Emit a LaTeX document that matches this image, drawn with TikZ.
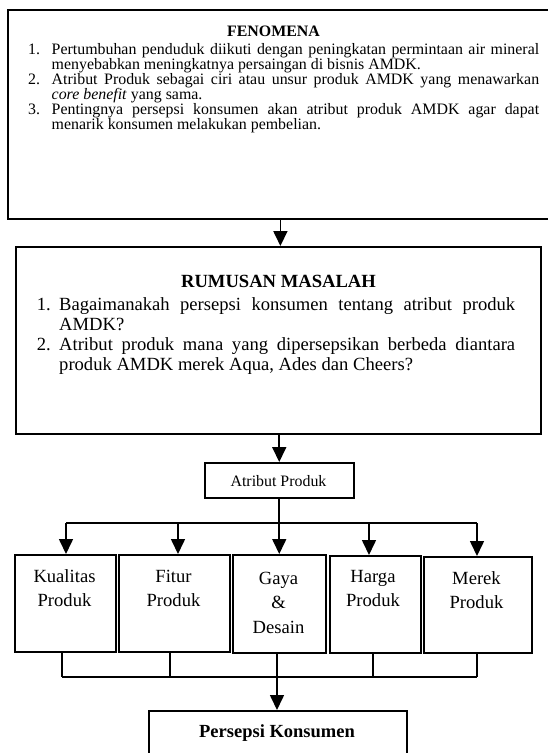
\documentclass[tikz,border=0pt]{standalone}
\usepackage{fontspec}
\setmainfont{Liberation Serif}
\usetikzlibrary{arrows.meta}
\newcommand\fenfont{\fontsize{15.9}{15}\selectfont}
\newcommand\rumfont{\fontsize{18.6}{20}\selectfont}
\newcommand\bxfont{\fontsize{18.6}{24.5}\selectfont}
\newcommand\twoline[2]{\begin{tabular}[t]{@{}c@{}}#1\\#2\end{tabular}}
\newcommand\threeline[3]{\begin{tabular}[t]{@{}c@{}}#1\\#2\\#3\end{tabular}}
\begin{document}
\begin{tikzpicture}[x=1pt,y=-1pt,
  bigbox/.style={draw, line width=1.8pt, inner sep=0pt, anchor=north west},
  smallbox/.style={draw, line width=1.5pt, inner sep=0pt, anchor=north west},
  txt/.style={inner sep=0pt, anchor=base west},
  ctxt/.style={inner sep=0pt, anchor=base},
  conn/.style={line width=1.5pt},
  arr/.style={line width=1.8pt, -{Triangle[width=14pt,length=15pt]}},
  arrb/.style={line width=1.6pt, -{Triangle[width=14pt,length=15pt]}}]
\fill[white] (0,0) rectangle (547,753);
\useasboundingbox (0,0) rectangle (547,753);

% FENOMENA box
\node[bigbox, minimum width=545pt, minimum height=209pt] (fen) at (7,9) {};
\node[ctxt] (fent) at (273.5,36) {\fenfont\bfseries FENOMENA};
\node[txt] (f1n) at (28,54) {\fenfont 1.};
\node[txt] (f1a) at (51.5,54) {\fenfont\makebox[487.5pt][s]{Pertumbuhan penduduk diikuti dengan peningkatan permintaan air mineral}};
\node[txt] (f1b) at (51.5,69) {\fenfont menyebabkan meningkatnya persaingan di bisnis AMDK.};
\node[txt] (f2n) at (28,84) {\fenfont 2.};
\node[txt] (f2a) at (51.5,84) {\fenfont\makebox[487.5pt][s]{Atribut Produk sebagai ciri atau unsur produk AMDK yang menawarkan}};
\node[txt] (f2b) at (51.5,99) {\fenfont\textit{core benefit} yang sama.};
\node[txt] (f3n) at (28,114) {\fenfont 3.};
\node[txt] (f3a) at (51.5,114) {\fenfont\makebox[487.5pt][s]{Pentingnya persepsi konsumen akan atribut produk AMDK agar dapat}};
\node[txt] (f3b) at (51.5,129) {\fenfont menarik konsumen melakukan pembelian.};

% RUMUSAN MASALAH box
\node[bigbox, minimum width=525pt, minimum height=187pt] (rum) at (15,246) {};
\node[ctxt] (rumt) at (278.5,287) {\rumfont\bfseries RUMUSAN MASALAH};
\node[txt] (r1n) at (36.6,310) {\rumfont 1.};
\node[txt] (r1a) at (59,310) {\rumfont\makebox[456pt][s]{Bagaimanakah persepsi konsumen tentang atribut produk}};
\node[txt] (r1b) at (59,330) {\rumfont AMDK?};
\node[txt] (r2n) at (36.6,350) {\rumfont 2.};
\node[txt] (r2a) at (59,350) {\rumfont\makebox[456pt][s]{Atribut produk mana yang dipersepsikan berbeda diantara}};
\node[txt] (r2b) at (59,370) {\rumfont produk AMDK merek Aqua, Ades dan Cheers?};

% Atribut Produk
\node[smallbox, minimum width=149pt, minimum height=35pt] (atr) at (204,462) {};
\node[ctxt] (atrt) at (278.5,486.5) {\fenfont Atribut Produk};

% five attribute boxes
\node[smallbox, minimum width=101pt, minimum height=97pt] (kual) at (14,554) {};
\node[smallbox, minimum width=111pt, minimum height=97pt] (fit) at (118,554) {};
\node[smallbox, minimum width=93pt, minimum height=98pt] (gaya) at (232,554) {};
\node[smallbox, minimum width=91pt, minimum height=97pt] (harga) at (329,555) {};
\node[smallbox, minimum width=108pt, minimum height=96pt] (merek) at (423,556) {};
\node[ctxt] (kualt) at (64.5,582) {\bxfont\twoline{Kualitas}{Produk}};
\node[ctxt] (fitt) at (173.5,582) {\bxfont\twoline{Fitur}{Produk}};
\node[ctxt] (gayat) at (278.5,584) {\bxfont\threeline{Gaya}{\&}{Desain}};
\node[ctxt] (hargat) at (373,582) {\bxfont\twoline{Harga}{Produk}};
\node[ctxt] (merekt) at (476.5,584) {\bxfont\twoline{Merek}{Produk}};

% Persepsi Konsumen
\node[smallbox, minimum width=258pt, minimum height=70pt] (pers) at (148,710) {};
\node[ctxt] (perst) at (277,737) {\fontsize{18.5}{20}\selectfont\bfseries Persepsi Konsumen};

% connectors
\draw[arr] (fen.south) -- (fen.south |- rum.north);
\draw[arr] (atr.north |- rum.south) -- (atr.north);

\coordinate (busL) at (66,523);
\coordinate (busF) at (178,523);
\coordinate (busH) at (369,523);
\coordinate (busR) at (477,523);
\draw[conn] (busL) -- (busR);
\draw[arrb] (atr.south) -- (atr.south |- gaya.north);
\draw[arrb] (busL) -- (busL |- kual.north);
\draw[arrb] (busF) -- (busF |- fit.north);
\draw[arrb] (busH) -- (busH |- harga.north);
\draw[arrb] (busR) -- (busR |- merek.north);

\coordinate (cL) at (62,677);
\coordinate (cF) at (170,677);
\coordinate (cG) at (277,677);
\coordinate (cH) at (373,677);
\coordinate (cR) at (477,677);
\draw[conn] (cL |- kual.south) -- (cL);
\draw[conn] (cF |- fit.south) -- (cF);
\draw[conn] (cG |- gaya.south) -- (cG);
\draw[conn] (cH |- harga.south) -- (cH);
\draw[conn] (cR |- merek.south) -- (cR);
\draw[conn] (cL) -- (cR);
\draw[arrb] (cG) -- (cG |- pers.north);
\end{tikzpicture}
\end{document}
